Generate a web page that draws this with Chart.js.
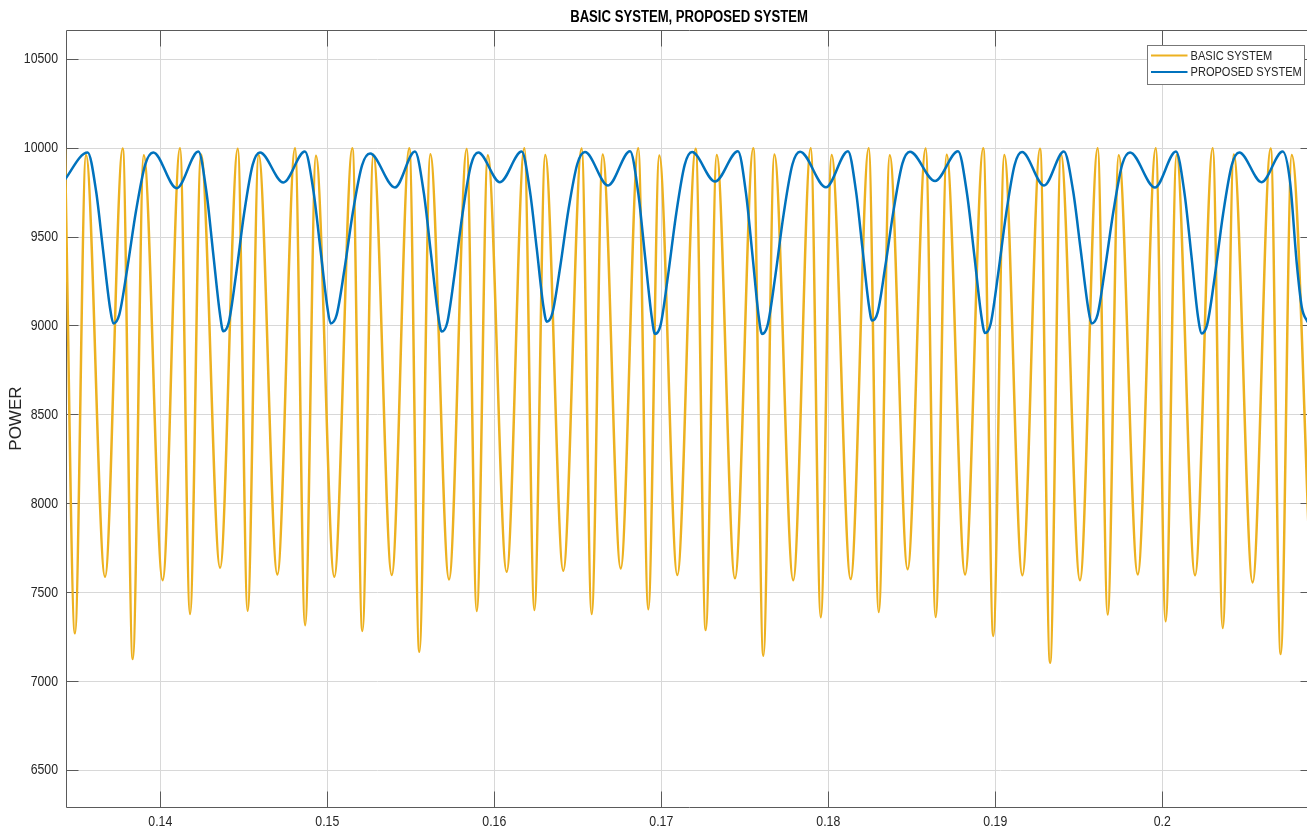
<!DOCTYPE html>
<html><head><meta charset="utf-8">
<script src="https://cdn.jsdelivr.net/npm/chart.js@4.4.1/dist/chart.umd.min.js"></script>
<style>html,body{margin:0;padding:0;background:#fff;overflow:hidden;}canvas{display:block;}</style>
</head><body>
<canvas id="c" width="1312" height="830"></canvas>
<script>
const chartTitle = 'BASIC SYSTEM, PROPOSED SYSTEM';
const yAxisTitle = 'POWER';
const seriesNames = ['BASIC SYSTEM', 'PROPOSED SYSTEM'];
const xTicks = [0.14, 0.15, 0.16, 0.17, 0.18, 0.19, 0.2];
const xTickLabels = ['0.14', '0.15', '0.16', '0.17', '0.18', '0.19', '0.2'];
const yTicks = [6500, 7000, 7500, 8000, 8500, 9000, 9500, 10000, 10500];
const yTickLabels = ['6500', '7000', '7500', '8000', '8500', '9000', '9500', '10000', '10500'];

const basicTime = [
0.13429,0.13489,0.13555,0.13669, 0.13775,0.13835,0.13901,0.14014,
0.14118,0.14178,0.14244,0.14358, 0.14464,0.14523,0.14589,0.14701,
0.14807,0.14867,0.14932,0.15042, 0.15150,0.15210,0.15276,0.15386,
0.15491,0.15551,0.15617,0.15729, 0.15835,0.15895,0.15961,0.16074,
0.16180,0.16240,0.16305,0.16413, 0.16523,0.16583,0.16649,0.16757,
0.16862,0.16922,0.16988,0.17096, 0.17206,0.17266,0.17332,0.17441,
0.17551,0.17611,0.17677,0.17790, 0.17895,0.17955,0.18020,0.18134,
0.18242,0.18302,0.18368,0.18475, 0.18583,0.18643,0.18709,0.18819,
0.18928,0.18988,0.19054,0.19162, 0.19268,0.19328,0.19393,0.19507,
0.19613,0.19673,0.19739,0.19853, 0.19961,0.20020,0.20086,0.20196,
0.20302,0.20362,0.20428,0.20541, 0.20649,0.20709,0.20775,0.20887];
const basicPower = [
10000,7271,9962,7589, 9998,7126,9960,7570,
10000,7379,9965,7640, 9997,7398,9961,7602,
10000,7316,9958,7589, 9999,7284,9963,7599,
10000,7167,9966,7574, 9996,7396,9960,7617,
10000,7402,9962,7623, 9998,7379,9964,7636,
10000,7406,9959,7599, 9997,7289,9962,7580,
10000,7145,9965,7570, 9999,7361,9961,7576,
10000,7390,9960,7631, 9998,7362,9963,7602,
10000,7256,9962,7597, 9997,7105,9966,7570,
10000,7376,9960,7602, 9999,7338,9962,7597,
10000,7300,9964,7557, 9998,7154,9961,7590];

const proposedTime = [
0.13417,0.13565,0.13616,0.13657,0.13699,0.13719,
0.13754,0.13802,0.13855,0.13910,0.13958,0.14098,0.14228,0.14277,0.14317,0.14358,0.14377,
0.14410,0.14454,0.14502,0.14553,0.14597,0.14737,0.14866,0.14917,0.14959,0.15001,0.15020,
0.15056,0.15103,0.15154,0.15208,0.15256,0.15405,0.15525,0.15578,0.15621,0.15664,0.15685,
0.15718,0.15762,0.15810,0.15860,0.15904,0.16034,0.16164,0.16213,0.16254,0.16294,0.16314,
0.16348,0.16394,0.16444,0.16497,0.16543,0.16681,0.16813,0.16862,0.16902,0.16943,0.16962,
0.16996,0.17040,0.17089,0.17140,0.17184,0.17322,0.17459,0.17507,0.17546,0.17584,0.17603,
0.17637,0.17683,0.17733,0.17785,0.17831,0.17986,0.18118,0.18165,0.18204,0.18243,0.18262,
0.18296,0.18341,0.18392,0.18444,0.18489,0.18639,0.18777,0.18830,0.18874,0.18917,0.18938,
0.18972,0.19016,0.19065,0.19116,0.19160,0.19292,0.19411,0.19466,0.19511,0.19556,0.19577,
0.19612,0.19657,0.19708,0.19760,0.19807,0.19956,0.20082,0.20133,0.20174,0.20214,0.20236,
0.20269,0.20315,0.20364,0.20416,0.20461,0.20595,0.20721,0.20765,0.20805,0.20835,0.20866,0.20884];
const proposedPower = [
9808,9976,9755,9428,9101,9014,
9062,9322,9649,9909,9976,9775,9981,9748,9405,9061,8970,
9020,9292,9634,9906,9976,9807,9981,9759,9430,9101,9014,
9062,9320,9645,9903,9970,9779,9981,9748,9404,9059,8968,
9018,9291,9633,9905,9976,9809,9981,9761,9436,9110,9024,
9072,9329,9654,9911,9978,9790,9983,9747,9397,9048,8955,
9006,9282,9630,9906,9978,9812,9983,9747,9397,9048,8955,
9006,9283,9632,9908,9980,9780,9983,9764,9440,9116,9030,
9078,9334,9657,9914,9980,9815,9983,9748,9400,9052,8960,
9011,9286,9632,9907,9978,9790,9981,9759,9430,9101,9014,
9062,9322,9649,9909,9976,9779,9981,9746,9398,9050,8958,
9009,9284,9630,9905,9976,9809,9981,9810,9353,9107,9030,9005];

const FONT = "'Liberation Sans',Arial,sans-serif";
const TEXT_SQUEEZE = 0.82;
const toXY = (xs, ys) => xs.map((x, i) => ({x: x, y: ys[i]}));
const align = v => Math.round(v - 0.5) + 0.5;

const canvas = document.getElementById('c');
const ctx2d = canvas.getContext('2d');
const origFillText = ctx2d.fillText;
ctx2d.fillText = function (text, x, y, maxWidth) {
  const m = this.getTransform();
  if (Math.abs(m.b) > 1e-6 || Math.abs(m.c) > 1e-6) {
    return maxWidth === undefined ? origFillText.call(this, text, x, y) : origFillText.call(this, text, x, y, maxWidth);
  }
  this.save();
  this.translate(x, y);
  this.scale(TEXT_SQUEEZE, 1);
  if (maxWidth === undefined) origFillText.call(this, text, 0, 0);
  else origFillText.call(this, text, 0, 0, maxWidth / TEXT_SQUEEZE);
  this.restore();
};

const axisBox = {
  id: 'axisBox',
  beforeDatasetsDraw(chart) {
    const {ctx, chartArea: a, scales: {x, y}} = chart;
    ctx.save();
    ctx.strokeStyle = '#5a5a5a';
    ctx.lineWidth = 1;
    const L = align(a.left), R = align(a.right), T = align(a.top), B = align(a.bottom);
    ctx.beginPath();
    ctx.moveTo(L, T); ctx.lineTo(R, T); ctx.lineTo(R, B); ctx.lineTo(L, B); ctx.closePath();
    yTicks.forEach(v => {
      const p = align(y.getPixelForValue(v));
      ctx.moveTo(L, p); ctx.lineTo(L + 12, p);
      ctx.moveTo(R, p); ctx.lineTo(R - 12, p);
    });
    xTicks.forEach(v => {
      const p = align(x.getPixelForValue(v));
      ctx.moveTo(p, B); ctx.lineTo(p, B - 16);
      ctx.moveTo(p, T); ctx.lineTo(p, T + 16);
    });
    ctx.stroke();
    ctx.restore();
  }
};

const boxLegend = {
  id: 'boxLegend',
  afterDatasetsDraw(chart) {
    const {ctx, chartArea: a} = chart;
    const w = 157, h = 39;
    const bx = Math.round(a.right - 8 - w) + 0.5, by = Math.round(a.top + 15) + 0.5;
    ctx.save();
    ctx.fillStyle = '#ffffff';
    ctx.fillRect(bx, by, w, h);
    ctx.strokeStyle = '#777777';
    ctx.lineWidth = 1;
    ctx.strokeRect(bx, by, w, h);
    ctx.font = "13.5px " + FONT;
    ctx.textBaseline = 'middle';
    ctx.textAlign = 'left';
    chart.data.datasets.forEach((ds, i) => {
      const ly = by + 10 + i * 16.5;
      ctx.strokeStyle = ds.borderColor;
      ctx.lineWidth = 2;
      ctx.beginPath();
      ctx.moveTo(bx + 3.5, ly); ctx.lineTo(bx + 40, ly);
      ctx.stroke();
      ctx.fillStyle = '#262626';
      ctx.fillText(ds.label, bx + 43, ly + 0.5);
    });
    ctx.restore();
  }
};

new Chart(canvas, {
  type: 'line',
  data: {
    datasets: [
      {label: seriesNames[0], data: toXY(basicTime, basicPower), borderColor: '#EDB120', borderWidth: 2.5,
       pointRadius: 0, cubicInterpolationMode: 'monotone', fill: false, order: 2},
      {label: seriesNames[1], data: toXY(proposedTime, proposedPower), borderColor: '#0072BD', borderWidth: 2.5,
       pointRadius: 0, cubicInterpolationMode: 'monotone', fill: false, order: 1}
    ]
  },
  options: {
    responsive: false,
    animation: false,
    devicePixelRatio: 1,
    layout: {padding: 0},
    plugins: {
      legend: {display: false},
      tooltip: {enabled: false},
      title: {display: true, text: chartTitle, fullSize: false, color: '#000000',
              font: {family: FONT, size: 16, weight: 'bold'}, padding: {top: 8, bottom: 3}}
    },
    scales: {
      x: {
        type: 'linear', min: 0.134353, max: 0.208964,
        afterBuildTicks: s => { s.ticks = xTicks.map(v => ({value: v})); },
        afterFit: s => { s.height = 23; },
        ticks: {callback: (v, i) => xTickLabels[i], padding: 6, color: '#262626',
                font: {family: FONT, size: 15}, maxRotation: 0, autoSkip: false},
        grid: {color: '#d8d8d8', drawTicks: false},
        border: {display: false}
      },
      y: {
        type: 'linear', min: 6293.7, max: 10663.7,
        afterBuildTicks: s => { s.ticks = yTicks.map(v => ({value: v})); },
        afterFit: s => { s.width = 66; },
        ticks: {callback: (v, i) => yTickLabels[i], padding: 8, color: '#262626',
                font: {family: FONT, size: 15}, autoSkip: false},
        title: {display: true, text: yAxisTitle, color: '#262626',
                font: {family: FONT, size: 17}, padding: {top: 6, bottom: 0}},
        grid: {color: '#d8d8d8', drawTicks: false},
        border: {display: false}
      }
    }
  },
  plugins: [axisBox, boxLegend]
});
</script>
</body></html>
